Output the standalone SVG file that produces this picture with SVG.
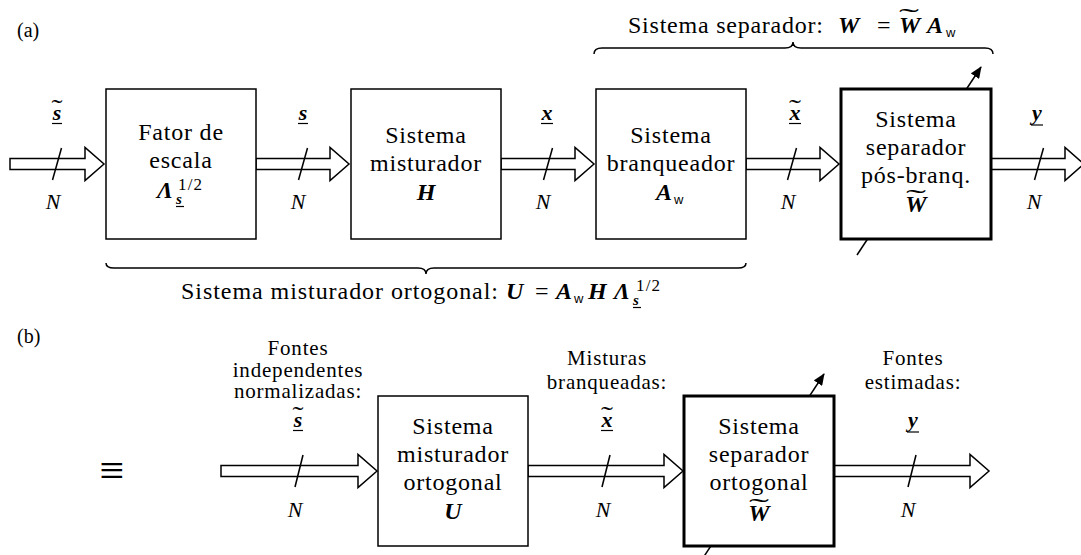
<svg xmlns="http://www.w3.org/2000/svg" width="1081" height="555" viewBox="0 0 1081 555" font-family="'Liberation Serif', 'DejaVu Serif', serif">
<defs>
<style>
.t{font-family:'Liberation Serif','DejaVu Serif',serif;fill:#000}
.bx{font-size:24px;text-anchor:middle;letter-spacing:0.8px}
.lb{font-size:21px;text-anchor:middle;letter-spacing:0.8px}
.br{font-size:24px}
.mb{font-weight:bold;font-style:italic}
.mi{font-style:italic}
.m24{font-size:24px}
.m22{font-size:22px}
.c{text-anchor:middle}
.sf{font-family:'Liberation Sans','DejaVu Sans',sans-serif;font-size:13px;fill:#000}
.box{fill:#fff;stroke:#000;stroke-width:1.5}
.thick{stroke-width:3}
.arr{fill:#fff;stroke:#000;stroke-width:1.5;stroke-linejoin:miter}
.ln{fill:none;stroke:#000;stroke-width:1.5}
.ul{stroke:#000;stroke-width:1.2}
.tl{font-family:'Liberation Serif','DejaVu Serif',serif;font-size:26px;fill:#000}
</style>
<marker id="ah" markerWidth="12" markerHeight="10" refX="11" refY="5" orient="auto" markerUnits="userSpaceOnUse"><path d="M0,0 L12,5 L0,10 Z" fill="#000"/></marker>
</defs>
<rect width="1081" height="555" fill="#fff"/>

<text class="t" x="17" y="37" font-size="20">(a)</text>
<text class="t" x="17" y="343" font-size="20">(b)</text>
<text class="t c" x="112" y="485" font-size="44">≡</text>

<g id="adapt">
<line class="ln" x1="857" y1="255" x2="981" y2="67" marker-end="url(#ah)"/>
<line class="ln" x1="701" y1="561" x2="824" y2="374" marker-end="url(#ah)"/>
</g>

<g id="connectors">
<polygon class="arr" points="10,158.5 85,158.5 85,147.5 104,164 85,180.5 85,169.5 10,169.5"/>
<polygon class="arr" points="256,158.5 330,158.5 330,147.5 349,164 330,180.5 330,169.5 256,169.5"/>
<polygon class="arr" points="501,158.5 575,158.5 575,147.5 594,164 575,180.5 575,169.5 501,169.5"/>
<polygon class="arr" points="746,158.5 820,158.5 820,147.5 839,164 820,180.5 820,169.5 746,169.5"/>
<polygon class="arr" points="991,158.5 1065,158.5 1065,147.5 1084,164 1065,180.5 1065,169.5 991,169.5"/>
<polygon class="arr" points="221,465.5 358,465.5 358,454.5 377,471 358,487.5 358,476.5 221,476.5"/>
<polygon class="arr" points="528,465.5 664,465.5 664,454.5 683,471 664,487.5 664,476.5 528,476.5"/>
<polygon class="arr" points="834,465.5 970,465.5 970,454.5 989,471 970,487.5 970,476.5 834,476.5"/>
<g class="ln">
<line x1="61.5" y1="148" x2="52.5" y2="180"/>
<line x1="307.5" y1="148" x2="298.5" y2="180"/>
<line x1="552.5" y1="148" x2="543.5" y2="180"/>
<line x1="796.5" y1="148" x2="787.5" y2="180"/>
<line x1="1043.5" y1="148" x2="1034.5" y2="180"/>
<line x1="303" y1="455" x2="295" y2="487"/>
<line x1="610" y1="455" x2="602" y2="487"/>
<line x1="916" y1="455" x2="908" y2="487"/>
</g>
</g>

<g id="signal-labels">
<text class="t mb m22 c" x="57" y="120">s</text><line class="ul" x1="52" y1="123.5" x2="62" y2="123.5"/><text class="tl" x="51.5" y="117" textLength="11" lengthAdjust="spacingAndGlyphs">˜</text>
<text class="t mb m22 c" x="303" y="120">s</text><line class="ul" x1="298" y1="123.5" x2="308" y2="123.5"/>
<text class="t mb m22 c" x="547" y="120">x</text><line class="ul" x1="541" y1="123.5" x2="553" y2="123.5"/>
<text class="t mb m22 c" x="795" y="120">x</text><line class="ul" x1="789" y1="123.5" x2="801" y2="123.5"/><text class="tl" x="789" y="117" textLength="12" lengthAdjust="spacingAndGlyphs">˜</text>
<text class="t mb m22 c" x="1037" y="120">y</text><line class="ul" x1="1031" y1="125" x2="1043" y2="125"/>
<text class="t mi m22 c" x="53" y="209">N</text>
<text class="t mi m22 c" x="298" y="209">N</text>
<text class="t mi m22 c" x="543" y="209">N</text>
<text class="t mi m22 c" x="788" y="209">N</text>
<text class="t mi m22 c" x="1034" y="209">N</text>

<text class="t lb" x="298" y="355">Fontes</text>
<text class="t lb" x="298" y="377">independentes</text>
<text class="t lb" x="298" y="398">normalizadas:</text>
<text class="t lb" x="607" y="365">Misturas</text>
<text class="t lb" x="607" y="389">branqueadas:</text>
<text class="t lb" x="913" y="365">Fontes</text>
<text class="t lb" x="913" y="389">estimadas:</text>

<text class="t mb m22 c" x="298" y="427">s</text><line class="ul" x1="293" y1="430.5" x2="303" y2="430.5"/><text class="tl" x="292.5" y="424" textLength="11" lengthAdjust="spacingAndGlyphs">˜</text>
<text class="t mb m22 c" x="607" y="427">x</text><line class="ul" x1="601" y1="430.5" x2="613" y2="430.5"/><text class="tl" x="601" y="424" textLength="12" lengthAdjust="spacingAndGlyphs">˜</text>
<text class="t mb m22 c" x="913" y="427">y</text><line class="ul" x1="907" y1="432" x2="919" y2="432"/>
<text class="t mi m22 c" x="295" y="517">N</text>
<text class="t mi m22 c" x="603" y="517">N</text>
<text class="t mi m22 c" x="908" y="517">N</text>
</g>

<g id="fator-escala">
<rect class="box" x="106" y="89" width="150" height="150"/>
<text class="t bx" x="181" y="140">Fator de</text>
<text class="t bx" x="181" y="168">escala</text>
<text class="t mb m24" x="157" y="198">Λ</text>
<text class="t mb" x="176" y="204" font-size="15">s</text><line class="ul" x1="176" y1="206.5" x2="184" y2="206.5"/>
<text class="t" x="178" y="190" font-size="17" letter-spacing="1.2">1/2</text>
</g>
<g id="misturador-H">
<rect class="box" x="351" y="89" width="150" height="150"/>
<text class="t bx" x="426" y="143">Sistema</text>
<text class="t bx" x="426" y="171">misturador</text>
<text class="t mb m24 c" x="426" y="200">H</text>
</g>
<g id="branqueador">
<rect class="box" x="596" y="89" width="150" height="150"/>
<text class="t bx" x="671" y="143">Sistema</text>
<text class="t bx" x="671" y="171">branqueador</text>
<text class="t mb m24" x="656" y="200">A</text><text class="sf" x="674" y="204">w</text>
</g>
<g id="separador-pos">
<rect class="box thick" x="841" y="89" width="150" height="150"/>
<text class="t bx" x="916" y="127">Sistema</text>
<text class="t bx" x="916" y="155">separador</text>
<text class="t bx" x="916" y="183">pós-branq.</text>
<text class="t mb m24 c" x="916" y="212">W</text><text class="tl" x="906" y="207" textLength="20" lengthAdjust="spacingAndGlyphs">˜</text>
</g>

<g id="braces">
<path class="ln" d="M594,54 Q594,48 602,48 L785,48 Q793,48 793,42 Q793,48 801,48 L985,48 Q993,48 993,54"/>
<path class="ln" d="M106,263 Q106,268 114,268 L418,268 Q426,268 426,274 Q426,268 434,268 L738,268 Q746,268 746,263"/>
</g>
<g id="brace-label-top">
<text class="t br" x="628" y="33" textLength="195" lengthAdjust="spacing">Sistema separador:</text>
<text class="t mb m24" x="838" y="33">W</text>
<text class="t m24" x="877" y="33">=</text>
<text class="t mb m24" x="899" y="33">W</text><text class="tl" x="899" y="26" textLength="20" lengthAdjust="spacingAndGlyphs">˜</text>
<text class="t mb m24" x="927" y="33">A</text><text class="sf" x="946" y="37">w</text>
</g>
<g id="brace-label-bottom">
<text class="t br" x="181" y="299" textLength="317" lengthAdjust="spacing">Sistema misturador ortogonal:</text>
<text class="t mb m24" x="506" y="299">U</text>
<text class="t m24" x="535" y="299">=</text>
<text class="t mb m24" x="556" y="299">A</text><text class="sf" x="574" y="303">w</text>
<text class="t mb m24" x="588" y="299">H</text>
<text class="t mb m24" x="614" y="299">Λ</text>
<text class="t mb" x="633" y="305" font-size="15">s</text><line class="ul" x1="633" y1="307.5" x2="641" y2="307.5"/>
<text class="t" x="636" y="291" font-size="17" letter-spacing="1.2">1/2</text>
</g>

<g id="misturador-U">
<rect class="box" x="378" y="396" width="150" height="150"/>
<text class="t bx" x="453" y="434">Sistema</text>
<text class="t bx" x="453" y="462">misturador</text>
<text class="t bx" x="453" y="490">ortogonal</text>
<text class="t mb m24 c" x="453" y="519">U</text>
</g>
<g id="separador-ortogonal">
<rect class="box thick" x="684" y="396" width="150" height="150"/>
<text class="t bx" x="759" y="434">Sistema</text>
<text class="t bx" x="759" y="462">separador</text>
<text class="t bx" x="759" y="490">ortogonal</text>
<text class="t mb m24 c" x="759" y="521">W</text><text class="tl" x="749" y="516" textLength="20" lengthAdjust="spacingAndGlyphs">˜</text>
</g>
</svg>
